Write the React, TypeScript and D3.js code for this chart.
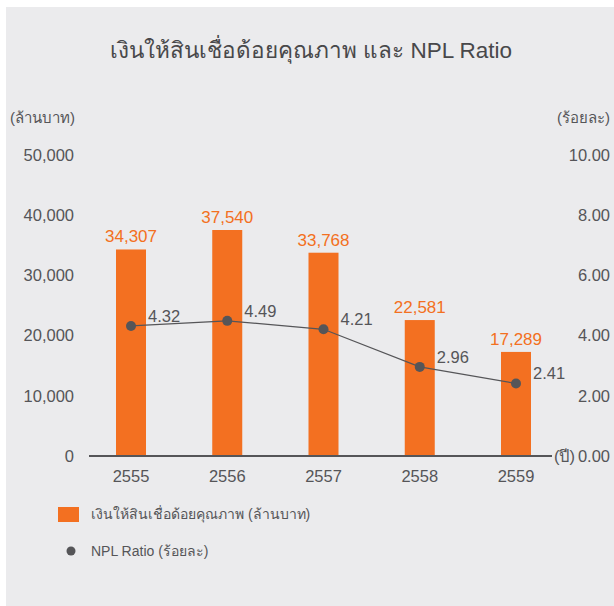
import * as d3 from "d3";

const years = ["2555", "2556", "2557", "2558", "2559"];
const nplAmount = [34307, 37540, 33768, 22581, 17289];
const nplRatio = [4.32, 4.49, 4.21, 2.96, 2.41];
const leftTicks = [0, 10000, 20000, 30000, 40000, 50000];
const rightTicks = [0, 2, 4, 6, 8, 10];

const title = "เงินให้สินเชื่อด้อยคุณภาพ และ NPL Ratio";
const leftUnit = "(ล้านบาท)";
const rightUnit = "(ร้อยละ)";
const xUnit = "(ปี)";
const legendBar = "เงินให้สินเชื่อด้อยคุณภาพ (ล้านบาท)";
const legendLine = "NPL Ratio (ร้อยละ)";

const W = 614;
const H = 606;
const orange = "#f37021";
const grey = "#555558";
const font = "'Liberation Sans', Arial, sans-serif";

const App = () => {
  // bar centres, fixed bar width
  const xScale = d3.scalePoint().domain(years).range([131, 516]);
  const barW = 30;
  const yLeft = d3.scaleLinear().domain([0, 50000]).range([456, 155]);
  const yRight = d3.scaleLinear().domain([0, 10]).range([456, 155]);

  const line = d3
    .line()
    .x((d, i) => xScale(years[i]))
    .y((d) => yRight(d));

  return (
    <svg width={W} height={H} style={{ position: "absolute", left: 0, top: 0, fontFamily: font }}>
      <rect x={6} y={7} width={W - 6} height={H - 7} fill="#ebebed" />
      <text x={311} y={58} textAnchor="middle" fontSize={22.5} fill="#48484a">
        {title}
      </text>
      <text x={10} y={123} fontSize={15} fill={grey}>
        {leftUnit}
      </text>
      <text x={610} y={123} textAnchor="end" fontSize={15} fill={grey}>
        {rightUnit}
      </text>

      {leftTicks.map((t) => (
        <text key={t} x={74} y={yLeft(t)} dy="0.35em" textAnchor="end" fontSize={16.5} fill={grey}>
          {d3.format(",")(t)}
        </text>
      ))}
      {rightTicks.map((t) => (
        <text key={t} x={610} y={yRight(t)} dy="0.35em" textAnchor="end" fontSize={16.5} fill={grey}>
          {d3.format(".2f")(t)}
        </text>
      ))}

      {nplAmount.map((v, i) => (
        <g key={years[i]}>
          <rect
            x={xScale(years[i]) - barW / 2}
            y={yLeft(v)}
            width={barW}
            height={yLeft(0) - yLeft(v)}
            fill={orange}
          />
          <text x={xScale(years[i])} y={yLeft(v) - 7} textAnchor="middle" fontSize={17} fill={orange}>
            {d3.format(",")(v)}
          </text>
        </g>
      ))}

      <line x1={89} x2={552} y1={yLeft(0)} y2={yLeft(0)} stroke={grey} strokeWidth={2} />
      <text x={554} y={yLeft(0)} dy="0.35em" fontSize={16.5} fill={grey}>
        {xUnit}
      </text>
      {years.map((y) => (
        <text key={y} x={xScale(y)} y={476} dy="0.35em" textAnchor="middle" fontSize={16.5} fill={grey}>
          {y}
        </text>
      ))}

      <path d={line(nplRatio)} fill="none" stroke={grey} strokeWidth={1.2} />
      {nplRatio.map((v, i) => (
        <g key={years[i]}>
          <circle cx={xScale(years[i])} cy={yRight(v)} r={5} fill={grey} />
          <text x={xScale(years[i]) + 17} y={yRight(v) - 10} dy="0.35em" fontSize={16.5} fill={grey}>
            {d3.format(".2f")(v)}
          </text>
        </g>
      ))}

      <rect x={58} y={507} width={21} height={15} fill={orange} />
      <text x={91} y={514} dy="0.35em" fontSize={14} fill={grey}>
        {legendBar}
      </text>
      <circle cx={71} cy={551} r={4.5} fill={grey} />
      <text x={91} y={551} dy="0.35em" fontSize={14} fill={grey}>
        {legendLine}
      </text>
    </svg>
  );
};

export default App;
